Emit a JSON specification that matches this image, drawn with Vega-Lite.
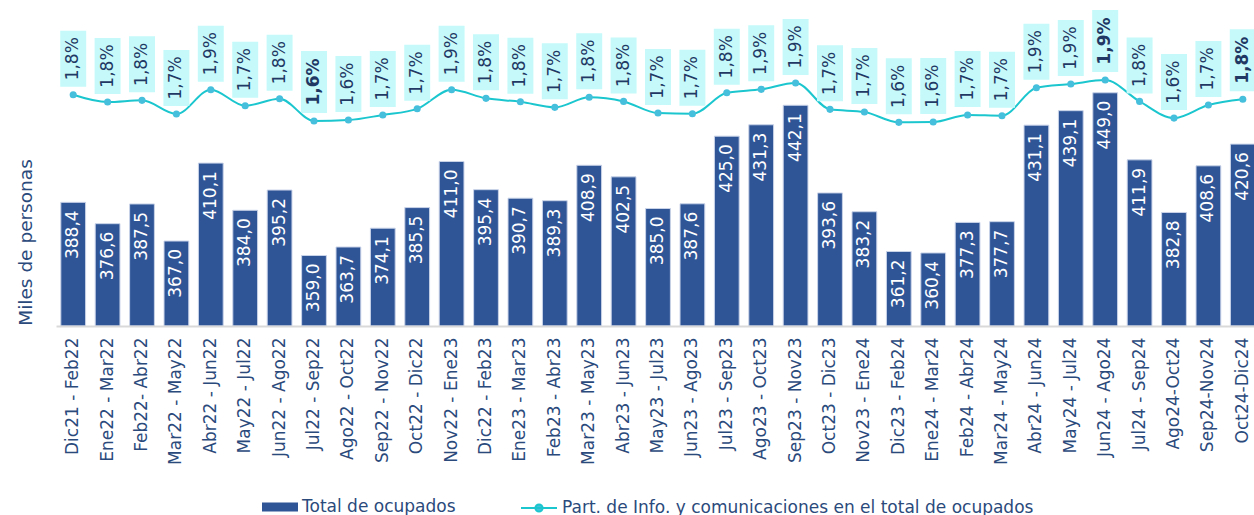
{
  "$schema": "https://vega.github.io/schema/vega-lite/v6.json",
  "autosize": "none",
  "padding": {"left": 56, "top": 6, "right": 0, "bottom": 189},
  "width": 1198,
  "height": 320,
  "background": "white",
  "config": {
    "view": {"stroke": null},
    "font": "DejaVu Sans",
    "text": {"font": "DejaVu Sans"}
  },
  "data": {
    "values": [
      {"periodo": "Dic21 - Feb22", "total": 388.4, "part": 1.818},
      {"periodo": "Ene22 - Mar22", "total": 376.6, "part": 1.763},
      {"periodo": "Feb22- Abr22", "total": 387.5, "part": 1.776},
      {"periodo": "Mar22 - May22", "total": 367.0, "part": 1.673},
      {"periodo": "Abr22 - Jun22", "total": 410.1, "part": 1.856},
      {"periodo": "May22 - Jul22", "total": 384.0, "part": 1.735},
      {"periodo": "Jun22 - Ago22", "total": 395.2, "part": 1.788},
      {"periodo": "Jul22 - Sep22", "total": 359.0, "part": 1.620},
      {"periodo": "Ago22 - Oct22", "total": 363.7, "part": 1.627},
      {"periodo": "Sep22 - Nov22", "total": 374.1, "part": 1.666},
      {"periodo": "Oct22 - Dic22", "total": 385.5, "part": 1.712},
      {"periodo": "Nov22 - Ene23", "total": 411.0, "part": 1.856},
      {"periodo": "Dic22 - Feb23", "total": 395.4, "part": 1.791},
      {"periodo": "Ene23 - Mar23", "total": 390.7, "part": 1.765},
      {"periodo": "Feb23 - Abr23", "total": 389.3, "part": 1.723},
      {"periodo": "Mar23 - May23", "total": 408.9, "part": 1.799},
      {"periodo": "Abr23 - Jun23", "total": 402.5, "part": 1.768},
      {"periodo": "May23 - Jul23", "total": 385.0, "part": 1.680},
      {"periodo": "Jun23 - Ago23", "total": 387.6, "part": 1.675},
      {"periodo": "Jul23 - Sep23", "total": 425.0, "part": 1.833},
      {"periodo": "Ago23 - Oct23", "total": 431.3, "part": 1.859},
      {"periodo": "Sep23 - Nov23", "total": 442.1, "part": 1.907},
      {"periodo": "Oct23 - Dic23", "total": 393.6, "part": 1.708},
      {"periodo": "Nov23 - Ene24", "total": 383.2, "part": 1.688},
      {"periodo": "Dic23 - Feb24", "total": 361.2, "part": 1.610},
      {"periodo": "Ene24 - Mar24", "total": 360.4, "part": 1.612},
      {"periodo": "Feb24 - Abr24", "total": 377.3, "part": 1.666},
      {"periodo": "Mar24 - May24", "total": 377.7, "part": 1.660},
      {"periodo": "Abr24 - Jun24", "total": 431.1, "part": 1.871},
      {"periodo": "May24 - Jul24", "total": 439.1, "part": 1.899},
      {"periodo": "Jun24 - Ago24", "total": 449.0, "part": 1.929},
      {"periodo": "Jul24 - Sep24", "total": 411.9, "part": 1.768},
      {"periodo": "Ago24-Oct24", "total": 382.8, "part": 1.642},
      {"periodo": "Sep24-Nov24", "total": 408.6, "part": 1.741},
      {"periodo": "Oct24-Dic24", "total": 420.6, "part": 1.784}
    ]
  },
  "encoding": {
    "x": {
      "field": "periodo",
      "type": "ordinal",
      "sort": null,
      "scale": {"range": [0, 1204], "paddingInner": 0.28, "paddingOuter": 0.14},
      "axis": {
        "title": null,
        "labelAngle": -90,
        "labelAlign": "right",
        "labelBaseline": "middle",
        "labelPadding": 11,
        "labelFontSize": 17,
        "labelColor": "#2b4a7c",
        "labelFont": "DejaVu Sans",
        "ticks": false,
        "domainColor": "#d9d9d9",
        "domainWidth": 2,
        "zindex": 1
      }
    }
  },
  "layer": [
    {
      "layer": [
        {
          "mark": {"type": "bar", "stroke": "#c9d3e8", "strokeWidth": 1},
          "encoding": {
            "y": {
              "field": "total",
              "type": "quantitative",
              "scale": {"domain": [320, 497], "zero": false, "nice": false},
              "axis": {
                "title": "Miles de personas",
                "labels": false,
                "ticks": false,
                "domain": false,
                "grid": false,
                "titleFontSize": 18.5,
                "titleFontWeight": "normal",
                "titleFont": "DejaVu Sans",
                "titleColor": "#2b4a7c",
                "titleX": -31,
                "titleY": 236,
                "titleAngle": -90,
                "titleAlign": "center",
                "titleBaseline": "middle"
              }
            },
            "y2": {"datum": 320},
            "fill": {
              "datum": "Total de ocupados",
              "type": "nominal",
              "scale": {"range": ["#2f5597"]},
              "legend": {
                "title": null,
                "orient": "none",
                "legendX": 206,
                "legendY": 483,
                "symbolType": "M-1,-0.25L1,-0.25L1,0.25L-1,0.25Z",
                "symbolSize": 1296,
                "symbolStrokeWidth": 0,
                "labelFontSize": 17,
                "labelColor": "#2b4a7c",
                "labelFont": "DejaVu Sans",
                "labelOffset": 4,
                "labelLimit": 0,
                "padding": 0
              }
            }
          }
        },
        {
          "mark": {
            "type": "text",
            "angle": 270,
            "align": "right",
            "baseline": "middle",
            "yOffset": 8,
            "fontSize": 17,
            "color": "white",
            "text": {"expr": "replace(format(datum.total, '.1f'), '.', ',')"}
          },
          "encoding": {
            "y": {"field": "total", "type": "quantitative"}
          }
        }
      ]
    },
    {
      "layer": [
        {
          "mark": {"type": "line", "interpolate": "monotone", "strokeWidth": 2},
          "encoding": {
            "y": {
              "field": "part",
              "type": "quantitative",
              "scale": {"domain": [0.073, 2.488], "zero": false, "nice": false},
              "axis": null
            },
            "stroke": {
              "datum": "Part. de Info. y comunicaciones en el total de ocupados",
              "type": "nominal",
              "scale": {"range": ["#1cc6cf"]},
              "legend": {
                "title": null,
                "orient": "none",
                "legendX": 464,
                "legendY": 483,
                "symbolType": "M-1,0L1,0M-0.2,0A0.2,0.2 0 1,1 0.2,0A0.2,0.2 0 1,1 -0.2,0Z",
                "symbolSize": 1296,
                "symbolStrokeWidth": 2,
                "symbolFillColor": "#45bfdc",
                "labelFontSize": 17,
                "labelColor": "#2b4a7c",
                "labelFont": "DejaVu Sans",
                "labelOffset": 4,
                "labelLimit": 0,
                "padding": 0
              }
            }
          }
        },
        {
          "mark": {
            "type": "point",
            "filled": true,
            "opacity": 1,
            "color": "#c6fafa",
            "shape": {"expr": "indexof(['Jul22 - Sep22','Jun24 - Ago24','Oct24-Dic24'], datum.periodo) >= 0 ? 'M-0.42,-1L0.42,-1L0.42,1L-0.42,1Z' : 'M-0.464,-1L0.464,-1L0.464,1L-0.464,1Z'"},
            "size": {"expr": "indexof(['Jul22 - Sep22','Jun24 - Ago24','Oct24-Dic24'], datum.periodo) >= 0 ? 3844 : 3136"},
            "yOffset": {"expr": "indexof(['Jul22 - Sep22','Jun24 - Ago24','Oct24-Dic24'], datum.periodo) >= 0 ? -39 : -36"}
          },
          "encoding": {
            "y": {"field": "part", "type": "quantitative"}
          }
        },
        {
          "mark": {
            "type": "text",
            "angle": 270,
            "align": "center",
            "baseline": "middle",
            "fontSize": 17,
            "color": "#1f3864",
            "fontWeight": {"expr": "indexof(['Jul22 - Sep22','Jun24 - Ago24','Oct24-Dic24'], datum.periodo) >= 0 ? 'bold' : 'normal'"},
            "yOffset": {"expr": "indexof(['Jul22 - Sep22','Jun24 - Ago24','Oct24-Dic24'], datum.periodo) >= 0 ? -39 : -36"},
            "text": {"expr": "replace(format(datum.part, '.1f'), '.', ',') + '%'"}
          },
          "encoding": {
            "y": {"field": "part", "type": "quantitative"}
          }
        },
        {
          "mark": {"type": "point", "filled": true, "opacity": 1, "color": "#45bfdc", "size": 50},
          "encoding": {
            "y": {"field": "part", "type": "quantitative"}
          }
        }
      ]
    }
  ],
  "resolve": {"scale": {"y": "independent"}}
}
